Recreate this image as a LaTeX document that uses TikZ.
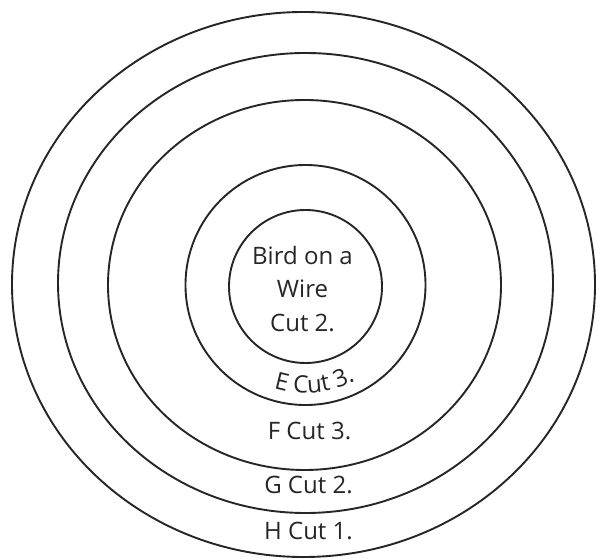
\documentclass[tikz,border=0pt]{standalone}
\usepackage{fontspec}
\setmainfont{Open Sans}
\usetikzlibrary{decorations.text}
\begin{document}
\begin{tikzpicture}[x=1pt,y=1pt,
  ring/.style={draw=black!85, line width=1.9pt},
  lbl/.style={font=\fontsize{24}{28}\selectfont, inner sep=0pt, anchor=base, text=black!85}]
\useasboundingbox (0,0) rectangle (596,559);
\fill[white] (0,0) rectangle (596,559);
% rings, outermost first
\draw[ring] (303.5,274.5) ellipse [x radius=291.5, y radius=272.5];
\draw[ring] (305.5,276) ellipse [x radius=247.5, y radius=230];
\draw[ring] (304.5,274) ellipse [x radius=196.5, y radius=185];
\draw[ring] (305.5,274) circle [radius=120];
\draw[ring] (305.5,272.5) circle [radius=76.5];
% labels
\node[lbl] (bird1) at (302.5,294) {Bird on a};
\node[lbl] (bird2) at (302.5,261) {Wire};
\node[lbl] (bird3) at (302.5,227) {Cut 2.};
\coordinate (c) at (305.5,274);
\path[decorate, decoration={text along path, text align=center,
   text={|\fontsize{24}{28}\selectfont\color{black!85}|E Cut 3.}}]
   (c) ++(-114.8:108) arc[start angle=-114.8, end angle=-54.8, radius=108];
\node[lbl] (f) at (309.5,119) {F Cut 3.};
\node[lbl] (g) at (308.5,66) {G Cut 2.};
\node[lbl] (h) at (308.5,20) {H Cut 1.};
\end{tikzpicture}
\end{document}
